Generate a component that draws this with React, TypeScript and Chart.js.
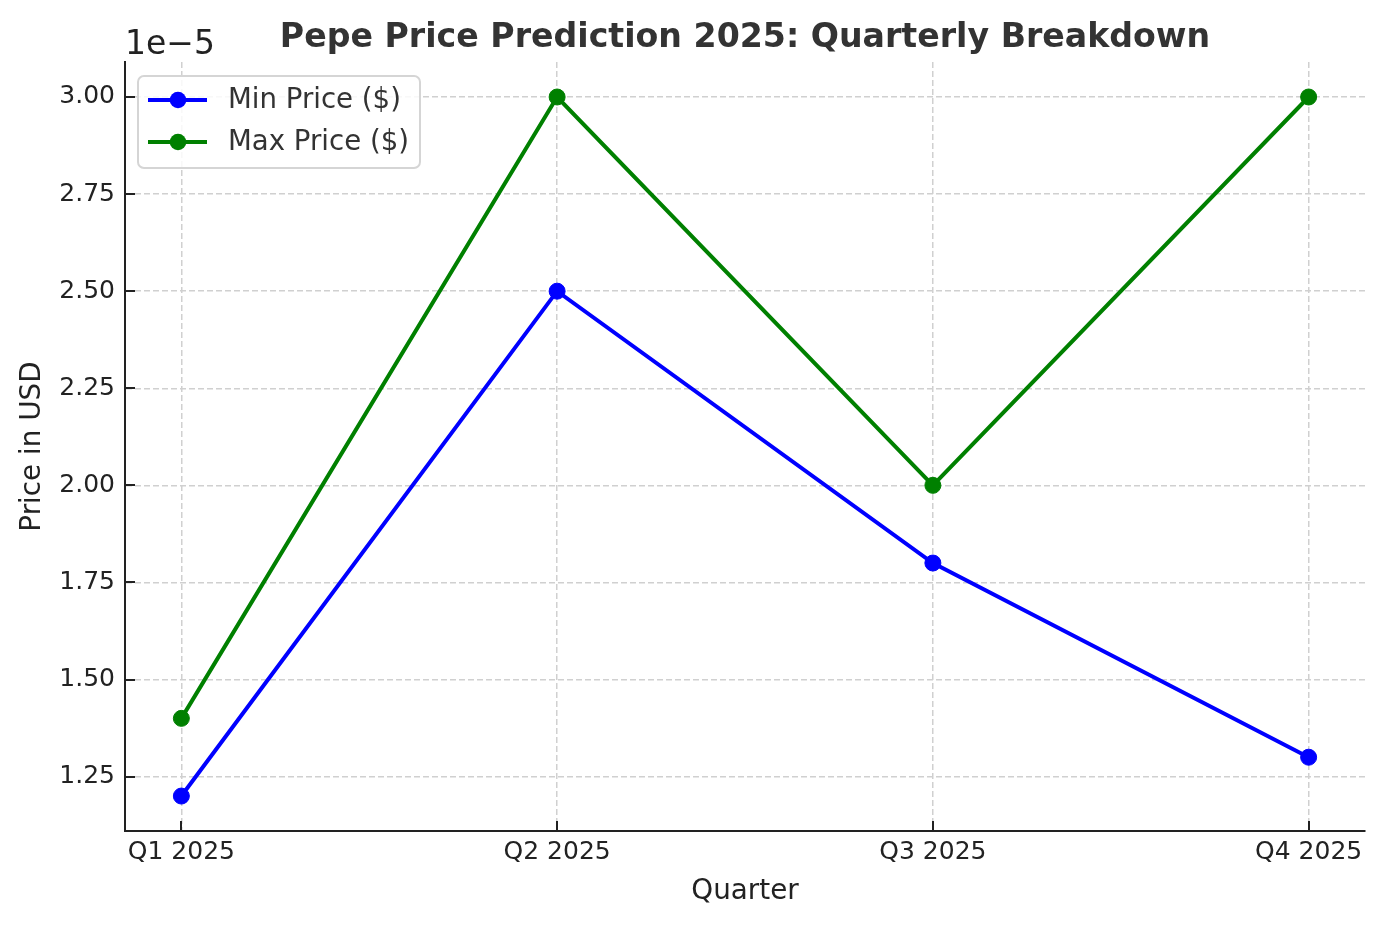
import { useEffect, useRef } from "react";
import { Chart, registerables } from "chart.js";

Chart.register(...registerables);

const quarters = ["Q1 2025", "Q2 2025", "Q3 2025", "Q4 2025"];
const minPrice = [1.2e-5, 2.5e-5, 1.8e-5, 1.3e-5];
const maxPrice = [1.4e-5, 3.0e-5, 2.0e-5, 3.0e-5];
const yTicks = [1.25, 1.5, 1.75, 2.0, 2.25, 2.5, 2.75, 3.0]; // in units of 1e-5
const yExp = 1e-5;
const offsetLabel = "1e\u22125";
const seriesLabels = ["Min Price ($)", "Max Price ($)"];
const seriesColors = ["#0000ff", "#008000"];
const titleText = "Pepe Price Prediction 2025: Quarterly Breakdown";
const xTitle = "Quarter";
const yTitle = "Price in USD";

const FONT = "'DejaVu Sans', sans-serif";

export default function App() {
  const ref = useRef<HTMLCanvasElement | null>(null);

  useEffect(() => {
    const canvas = ref.current;
    if (!canvas) return;
    const all = [...minPrice, ...maxPrice];
    const dMin = Math.min(...all);
    const dMax = Math.max(...all);
    const margin = (dMax - dMin) * 0.05;
    const nX = quarters.length - 1;

    const decor = {
      id: "decor",
      afterDraw(chart: any) {
        const { ctx, chartArea, scales } = chart;
        const xs = scales.x;
        const ys = scales.y;
        ctx.save();
        // inward ticks
        ctx.strokeStyle = "#222222";
        ctx.lineWidth = 2;
        ctx.beginPath();
        xs.ticks.forEach((t: any) => {
          const px = Math.round(xs.getPixelForValue(t.value));
          ctx.moveTo(px, chartArea.bottom);
          ctx.lineTo(px, chartArea.bottom - 10);
        });
        ys.ticks.forEach((t: any) => {
          const py = Math.round(ys.getPixelForValue(t.value));
          ctx.moveTo(chartArea.left, py);
          ctx.lineTo(chartArea.left + 10, py);
        });
        ctx.stroke();

        // offset text
        ctx.fillStyle = "#222222";
        ctx.font = `33px ${FONT}`;
        ctx.textAlign = "left";
        ctx.textBaseline = "alphabetic";
        ctx.fillText(offsetLabel, chartArea.left, 54);

        // legend
        const bx = 138, by = 76, bw = 282, bh = 92;
        ctx.beginPath();
        (ctx as any).roundRect(bx, by, bw, bh, 6);
        ctx.fillStyle = "rgba(255,255,255,0.85)";
        ctx.fill();
        ctx.strokeStyle = "#d5d5d5";
        ctx.lineWidth = 2;
        ctx.stroke();
        chart.data.datasets.forEach((ds: any, i: number) => {
          const cy = 100 + i * 42;
          ctx.strokeStyle = ds.borderColor;
          ctx.lineWidth = 4;
          ctx.beginPath();
          ctx.moveTo(148, cy);
          ctx.lineTo(207, cy);
          ctx.stroke();
          ctx.fillStyle = ds.borderColor;
          ctx.beginPath();
          ctx.arc(178, cy, 8.3, 0, Math.PI * 2);
          ctx.fill();
          ctx.fillStyle = "#333333";
          ctx.font = `27.6px ${FONT}`;
          ctx.textBaseline = "middle";
          ctx.fillText(ds.label, 228, cy + 1);
        });
        ctx.restore();
      },
    };

    const chart = new Chart(canvas, {
      type: "line",
      data: {
        datasets: [minPrice, maxPrice].map((arr, si) => ({
          label: seriesLabels[si],
          data: arr.map((v, i) => ({ x: i, y: v })),
          borderColor: seriesColors[si],
          backgroundColor: seriesColors[si],
          borderWidth: 4,
          pointRadius: 8,
          pointBorderWidth: 1,
          pointBackgroundColor: seriesColors[si],
          pointBorderColor: seriesColors[si],
          tension: 0,
          fill: false,
        })),
      },
      options: {
        animation: false,
        responsive: false,
        devicePixelRatio: 1,
        layout: { padding: { left: 0, right: 19, top: 0, bottom: 0 } },
        plugins: {
          legend: { display: false },
          tooltip: { enabled: false },
          title: {
            display: true,
            text: titleText,
            color: "#333333",
            font: { family: FONT, size: 33.2, weight: "bold" },
            padding: { top: 18, bottom: 4.2 },
            fullSize: false,
          },
        },
        scales: {
          x: {
            type: "linear",
            min: -0.05 * nX,
            max: nX * 1.05,
            afterBuildTicks: (scale: any) => {
              scale.ticks = quarters.map((_, i) => ({ value: i }));
            },
            afterFit: (scale: any) => {
              scale.height = 94;
            },
            ticks: {
              autoSkip: false,
              maxRotation: 0,
              padding: 6,
              color: "#222222",
              font: { family: FONT, size: 25 },
              callback: (v: any) => quarters[v as number] ?? "",
            },
            grid: {
              drawTicks: false,
              color: "#d0d0d0",
              lineWidth: 1.5,
            },
            border: { display: true, color: "#222222", width: 2, dash: [6, 3] },
            title: {
              display: true,
              text: xTitle,
              color: "#222222",
              font: { family: FONT, size: 27.8 },
              padding: { top: 0, bottom: 17 },
            },
          },
          y: {
            type: "linear",
            min: dMin - margin,
            max: dMax + margin,
            afterBuildTicks: (scale: any) => {
              scale.ticks = yTicks.map((v) => ({ value: v * yExp }));
            },
            afterFit: (scale: any) => {
              scale.width = 125;
            },
            ticks: {
              padding: 10,
              color: "#222222",
              font: { family: FONT, size: 25 },
              callback: (v: any) => ((v as number) / yExp).toFixed(2),
            },
            grid: {
              drawTicks: false,
              color: "#d0d0d0",
              lineWidth: 1.5,
            },
            border: { display: true, color: "#222222", width: 2, dash: [6, 3] },
            title: {
              display: true,
              text: yTitle,
              color: "#222222",
              font: { family: FONT, size: 27.8 },
              padding: { top: 16.3, bottom: 0 },
            },
          },
        },
      },
      plugins: [decor],
    } as any);

    return () => chart.destroy();
  }, []);

  return (
    <div style={{ position: "absolute", left: 0, top: 0, width: 1384, height: 925, background: "#ffffff" }}>
      <canvas ref={ref} width={1384} height={925} style={{ display: "block" }} />
    </div>
  );
}
